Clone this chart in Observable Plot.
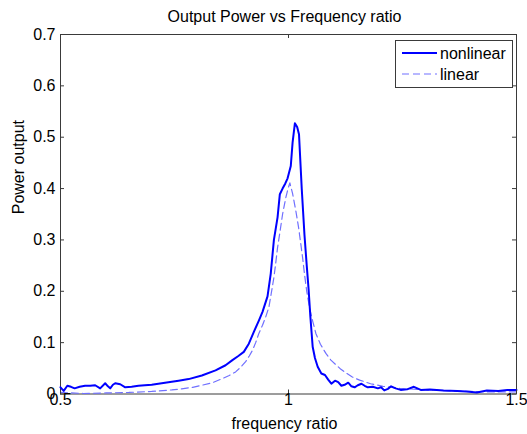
<!DOCTYPE html>
<html><head><meta charset="utf-8">
<script src="https://cdn.jsdelivr.net/npm/d3@7"></script>
<script src="https://cdn.jsdelivr.net/npm/@observablehq/plot@0.6"></script>
<style>html,body{margin:0;padding:0;background:#fff;}</style>
</head><body><div id="chart"></div>
<script>
const title = "Output Power vs Frequency ratio";
const xLabel = "frequency ratio";
const yLabel = "Power output";
const seriesNames = ["nonlinear", "linear"];

const nonlinearFreq = [
  0.500,0.507,0.515,0.523,0.531,0.542,0.554,0.565,0.576,0.587,
  0.598,0.604,0.609,0.615,0.620,0.631,0.642,0.656,0.671,0.685,
  0.700,0.722,0.744,0.759,0.781,0.810,0.840,0.862,0.877,0.890,
  0.902,0.913,0.924,0.935,0.943,0.954,0.961,0.968,0.976,0.981,
  0.987,0.993,0.998,1.005,1.009,1.014,1.019,1.023,1.029,1.035,
  1.040,1.044,1.048,1.053,1.058,1.064,1.072,1.080,1.087,1.094,
  1.102,1.109,1.116,1.123,1.131,1.138,1.145,1.152,1.160,1.167,
  1.174,1.185,1.196,1.203,1.210,1.218,1.225,1.235,1.246,1.260,
  1.275,1.290,1.310,1.340,1.370,1.390,1.413,1.435,1.460,1.480,
  1.500];
const nonlinearPower = [
  0.013,0.006,0.016,0.014,0.011,0.014,0.016,0.016,0.017,0.011,
  0.021,0.015,0.011,0.018,0.021,0.019,0.013,0.014,0.016,0.017,
  0.018,0.021,0.024,0.026,0.029,0.036,0.046,0.056,0.066,0.074,
  0.082,0.098,0.121,0.143,0.160,0.190,0.234,0.300,0.344,0.389,
  0.400,0.410,0.420,0.444,0.490,0.527,0.520,0.506,0.400,0.310,
  0.250,0.205,0.150,0.092,0.070,0.053,0.040,0.037,0.028,0.020,
  0.026,0.023,0.016,0.018,0.022,0.015,0.013,0.017,0.020,0.016,
  0.013,0.014,0.011,0.013,0.007,0.010,0.015,0.011,0.008,0.009,
  0.014,0.008,0.009,0.007,0.006,0.005,0.003,0.007,0.006,0.008,
  0.008];

const linearFreq = [
  0.500,0.550,0.600,0.650,0.700,0.744,0.766,0.790,0.810,0.833,
  0.855,0.870,0.884,0.895,0.906,0.914,0.921,0.928,0.935,0.943,
  0.950,0.957,0.962,0.968,0.972,0.976,0.982,0.987,0.994,0.999,
  1.003,1.009,1.016,1.022,1.027,1.031,1.035,1.040,1.046,1.053,
  1.060,1.070,1.082,1.093,1.104,1.115,1.126,1.140,1.156,1.180,
  1.207,1.244,1.300,1.350,1.400,1.450,1.500];
const linearPower = [
  0.003,0.001,0.002,0.003,0.005,0.008,0.010,0.013,0.017,0.022,
  0.030,0.036,0.043,0.052,0.063,0.074,0.085,0.100,0.118,0.134,
  0.150,0.169,0.195,0.227,0.255,0.285,0.320,0.350,0.382,0.400,
  0.411,0.390,0.357,0.325,0.292,0.265,0.234,0.200,0.169,0.142,
  0.118,0.097,0.079,0.066,0.057,0.048,0.041,0.033,0.027,0.020,
  0.015,0.011,0.008,0.006,0.005,0.004,0.004];

const xTicks = [0.5, 1, 1.5];
const xTickLabels = ["0.5", "1", "1.5"];
const yTicks = [0, 0.1, 0.2, 0.3, 0.4, 0.5, 0.6, 0.7];
const yTickLabels = ["0", "0.1", "0.2", "0.3", "0.4", "0.5", "0.6", "0.7"];

const nonlinearData = nonlinearFreq.map((f, i) => ({f, p: nonlinearPower[i]}));
const linearData = linearFreq.map((f, i) => ({f, p: linearPower[i]}));

const W = 527, H = 434, mL = 60, mR = 11, mT = 34, mB = 40.5;
const plotW = W - mL - mR, plotH = H - mT - mB;
const tickLen = 4;
const axisColor = "#3a3a3a";
const solidColor = "#0000ff";
const dashColor = "#7070ff";
const dash = "7,4";
const font = "'Liberation Sans', Arial, Helvetica, sans-serif";

function legendMark(index, scales, values, dims) {
  const g = d3.create("svg:g").attr("text-anchor", "start");
  const x0 = dims.width - dims.marginRight - 121, y0 = dims.marginTop + 6;
  g.append("rect").attr("x", x0 + 0.5).attr("y", y0 + 0.5)
    .attr("width", 117).attr("height", 47)
    .attr("fill", "white").attr("stroke", axisColor);
  seriesNames.forEach((name, i) => {
    const cy = y0 + 13 + i * 21;
    g.append("line").attr("x1", x0 + 7).attr("x2", x0 + 42)
      .attr("y1", cy).attr("y2", cy)
      .attr("stroke", i === 0 ? solidColor : dashColor)
      .attr("stroke-width", i === 0 ? 2 : 1.2)
      .attr("stroke-dasharray", i === 0 ? null : dash);
    g.append("text").attr("x", x0 + 45).attr("y", cy).attr("dy", "0.35em")
      .attr("text-anchor", "start")
      .attr("fill", "#000").text(name);
  });
  return g.node();
}

const chart = Plot.plot({
  width: W, height: H,
  marginLeft: mL, marginRight: mR, marginTop: mT, marginBottom: mB,
  style: {fontFamily: font, fontSize: "16px", color: "#000", background: "#fff"},
  x: {domain: [0.5, 1.5]},
  y: {domain: [0, 0.7]},
  marks: [
    Plot.frame({stroke: axisColor}),
    Plot.line(linearData, {x: "f", y: "p", stroke: dashColor, strokeWidth: 1.2, strokeDasharray: dash}),
    Plot.line(nonlinearData, {x: "f", y: "p", stroke: solidColor, strokeWidth: 2}),
    Plot.tickX(xTicks, {x: d => d, insetTop: plotH - tickLen, stroke: axisColor}),
    Plot.tickX(xTicks, {x: d => d, insetBottom: plotH - tickLen, stroke: axisColor}),
    Plot.tickY(yTicks, {y: d => d, insetRight: plotW - tickLen, stroke: axisColor}),
    Plot.tickY(yTicks, {y: d => d, insetLeft: plotW - tickLen, stroke: axisColor}),
    Plot.axisX({ticks: xTicks, tickSize: 0, tickPadding: 0, label: null,
      tickFormat: d => xTickLabels[xTicks.indexOf(d)]}),
    Plot.axisY({ticks: yTicks, tickSize: 0, tickPadding: 5, label: null,
      tickFormat: d => yTickLabels[yTicks.indexOf(d)]}),
    Plot.text([title], {text: d => d, frameAnchor: "top", lineAnchor: "bottom", dy: -13, dx: -4, fill: "#000"}),
    Plot.text([xLabel], {text: d => d, frameAnchor: "bottom", lineAnchor: "bottom", dy: 34.5, dx: -4, fill: "#000"}),
    Plot.text([yLabel], {text: d => d, frameAnchor: "left", lineAnchor: "bottom", rotate: -90, dx: -37, fill: "#000"}),
    legendMark
  ]
});
document.getElementById("chart").appendChild(chart);
</script>
</body></html>
